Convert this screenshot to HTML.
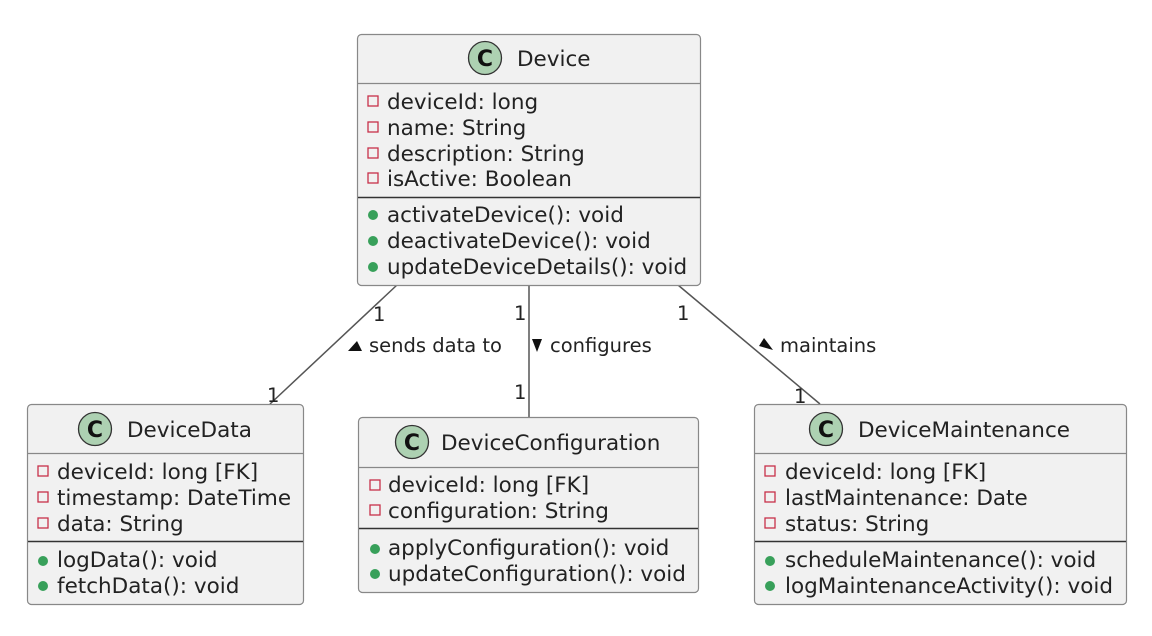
<!DOCTYPE html>
<html><head><meta charset="utf-8"><style>
html,body{margin:0;padding:0;background:#fff;}
svg{display:block;}
text{font-family:"DejaVu Sans","Liberation Sans",sans-serif;fill:#222;}
.t{font-size:21.5px;}
.h{font-size:21.5px;}
.l{font-size:19.5px;}
</style></head><body>
<svg width="1152" height="636" viewBox="0 0 1152 636" xmlns="http://www.w3.org/2000/svg">
<rect width="1152" height="636" fill="#fff"/>
<g stroke="#555" stroke-width="1.5" fill="none">
<line x1="397" y1="285" x2="270" y2="404"/>
<line x1="529" y1="285" x2="529" y2="417"/>
<line x1="678" y1="285" x2="820" y2="404"/>
</g>
<text class="l" x="373" y="321">1</text>
<text class="l" x="267" y="402">1</text>
<text class="l" x="514" y="320">1</text>
<text class="l" x="514" y="399">1</text>
<text class="l" x="677" y="320">1</text>
<text class="l" x="794" y="403">1</text>
<polygon points="348,351 362,351 357,341" fill="#111"/>
<text class="l" x="369" y="352">sends data to</text>
<polygon points="532,339 542,339 537,352" fill="#111"/>
<text class="l" x="550" y="352">configures</text>
<polygon points="759,346 773,350 764,338" fill="#111"/>
<text class="l" x="780" y="352">maintains</text>

<!-- Device -->
<rect x="357.5" y="34.5" width="343" height="251" rx="4" fill="#f1f1f1" stroke="#888" stroke-width="1.2"/>
<line x1="358" y1="83.5" x2="700" y2="83.5" stroke="#888" stroke-width="1.2"/>
<line x1="358" y1="197.5" x2="700" y2="197.5" stroke="#333" stroke-width="1.5"/>
<circle cx="485" cy="58" r="16.5" fill="#add1b2" stroke="#333" stroke-width="1.3"/>
<text x="485" y="66" text-anchor="middle" style="font-size:22px;font-weight:bold;fill:#111">C</text>
<text class="h" x="517" y="66">Device</text>
<g fill="none" stroke="#c8304a" stroke-width="1.3">
<rect x="368" y="96" width="10" height="10"/><rect x="368" y="122" width="10" height="10"/><rect x="368" y="148" width="10" height="10"/><rect x="368" y="173" width="10" height="10"/>
</g>
<g fill="#38a05a"><circle cx="373" cy="215" r="5"/><circle cx="373" cy="241" r="5"/><circle cx="373" cy="267" r="5"/></g>
<text class="t" x="387" y="109">deviceId: long</text>
<text class="t" x="387" y="135">name: String</text>
<text class="t" x="387" y="161">description: String</text>
<text class="t" x="387" y="186">isActive: Boolean</text>
<text class="t" x="387" y="222">activateDevice(): void</text>
<text class="t" x="387" y="248">deactivateDevice(): void</text>
<text class="t" x="387" y="274">updateDeviceDetails(): void</text>

<!-- DeviceData -->
<rect x="27.5" y="404.5" width="276" height="200" rx="4" fill="#f1f1f1" stroke="#888" stroke-width="1.2"/>
<line x1="28" y1="453.5" x2="303" y2="453.5" stroke="#888" stroke-width="1.2"/>
<line x1="28" y1="541.5" x2="303" y2="541.5" stroke="#333" stroke-width="1.5"/>
<circle cx="95" cy="429" r="16.5" fill="#add1b2" stroke="#333" stroke-width="1.3"/>
<text x="95" y="437" text-anchor="middle" style="font-size:22px;font-weight:bold;fill:#111">C</text>
<text class="h" x="127" y="437">DeviceData</text>
<g fill="none" stroke="#c8304a" stroke-width="1.3">
<rect x="38" y="466" width="10" height="10"/><rect x="38" y="492" width="10" height="10"/><rect x="38" y="518" width="10" height="10"/>
</g>
<g fill="#38a05a"><circle cx="43" cy="561" r="5"/><circle cx="43" cy="586" r="5"/></g>
<text class="t" x="57" y="479">deviceId: long [FK]</text>
<text class="t" x="57" y="505">timestamp: DateTime</text>
<text class="t" x="57" y="531">data: String</text>
<text class="t" x="57" y="567">logData(): void</text>
<text class="t" x="57" y="593">fetchData(): void</text>

<!-- DeviceConfiguration -->
<rect x="358.5" y="417.5" width="340" height="175" rx="4" fill="#f1f1f1" stroke="#888" stroke-width="1.2"/>
<line x1="359" y1="467.5" x2="698" y2="467.5" stroke="#888" stroke-width="1.2"/>
<line x1="359" y1="528.5" x2="698" y2="528.5" stroke="#333" stroke-width="1.5"/>
<circle cx="412" cy="442" r="16.5" fill="#add1b2" stroke="#333" stroke-width="1.3"/>
<text x="412" y="450" text-anchor="middle" style="font-size:22px;font-weight:bold;fill:#111">C</text>
<text class="h" x="441" y="450">DeviceConfiguration</text>
<g fill="none" stroke="#c8304a" stroke-width="1.3">
<rect x="370" y="480" width="10" height="10"/><rect x="370" y="505" width="10" height="10"/>
</g>
<g fill="#38a05a"><circle cx="375" cy="549" r="5"/><circle cx="375" cy="574" r="5"/></g>
<text class="t" x="388" y="492">deviceId: long [FK]</text>
<text class="t" x="388" y="518">configuration: String</text>
<text class="t" x="388" y="555">applyConfiguration(): void</text>
<text class="t" x="388" y="581">updateConfiguration(): void</text>

<!-- DeviceMaintenance -->
<rect x="754.5" y="404.5" width="372" height="200" rx="4" fill="#f1f1f1" stroke="#888" stroke-width="1.2"/>
<line x1="755" y1="453.5" x2="1126" y2="453.5" stroke="#888" stroke-width="1.2"/>
<line x1="755" y1="541.5" x2="1126" y2="541.5" stroke="#333" stroke-width="1.5"/>
<circle cx="826" cy="429" r="16.5" fill="#add1b2" stroke="#333" stroke-width="1.3"/>
<text x="826" y="437" text-anchor="middle" style="font-size:22px;font-weight:bold;fill:#111">C</text>
<text class="h" x="858" y="437">DeviceMaintenance</text>
<g fill="none" stroke="#c8304a" stroke-width="1.3">
<rect x="765" y="466" width="10" height="10"/><rect x="765" y="492" width="10" height="10"/><rect x="765" y="518" width="10" height="10"/>
</g>
<g fill="#38a05a"><circle cx="770" cy="561" r="5"/><circle cx="770" cy="586" r="5"/></g>
<text class="t" x="785" y="479">deviceId: long [FK]</text>
<text class="t" x="785" y="505">lastMaintenance: Date</text>
<text class="t" x="785" y="531">status: String</text>
<text class="t" x="785" y="567">scheduleMaintenance(): void</text>
<text class="t" x="785" y="593">logMaintenanceActivity(): void</text>
</svg>
</body></html>
